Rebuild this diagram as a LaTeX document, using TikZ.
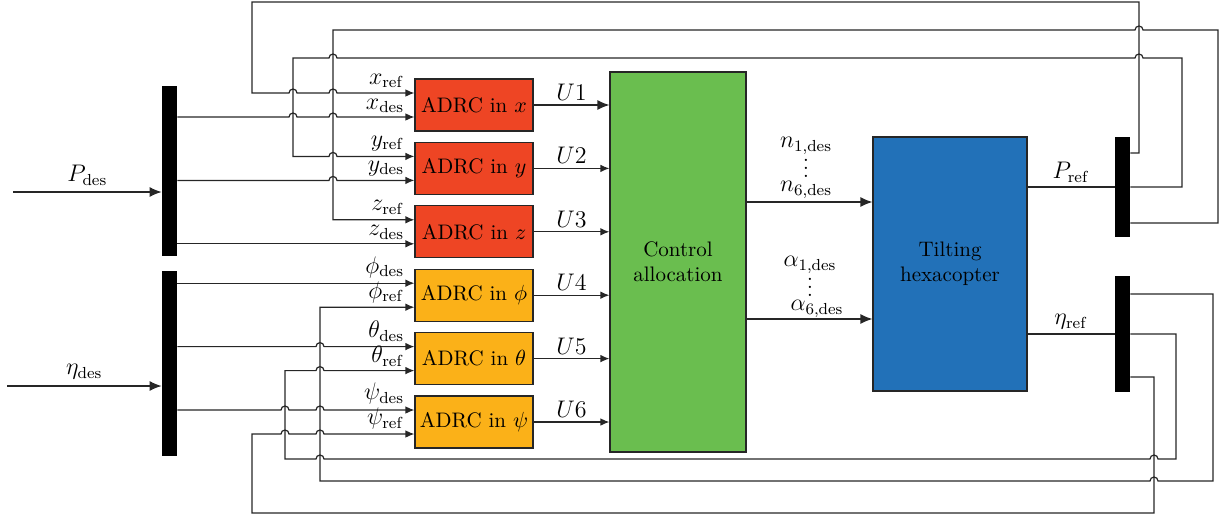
\documentclass[tikz,border=0pt]{standalone}
\usepackage{amsmath,amssymb}
\usepackage{xcolor}
\usepackage{tikz}
\usetikzlibrary{arrows.meta,positioning}

\definecolor{adrcred}{HTML}{EE4524}
\definecolor{adrcorange}{HTML}{FBB118}
\definecolor{allocgreen}{HTML}{6ABE4F}
\definecolor{hexablue}{HTML}{2271B8}

% line hops over a vertical wire (rightwards / leftwards)
\newcommand{\hopr}[2]{-- ([xshift=-2pt]#1 |- #2) arc[start angle=180,end angle=0,radius=2pt]}
\newcommand{\hopl}[2]{-- ([xshift=2pt]#1 |- #2) arc[start angle=0,end angle=180,radius=2pt]}

\begin{document}
\begin{tikzpicture}[
    x=0.5pt, y=-0.5pt,
    node distance=5.1pt,
    font=\fontsize{10.5}{12.5}\selectfont,
    wire/.style={line width=0.6pt, draw=black!85},
    arr/.style={wire, -{Latex[length=4.5pt,width=3.8pt]}},
    bigarr/.style={wire, -{Latex[length=6pt,width=5pt]}},
    adrc/.style={rectangle, draw=black!85, line width=0.6pt, minimum width=59pt, minimum height=26pt, inner sep=1pt},
    bar/.style={rectangle, fill=black, inner sep=0pt, minimum width=7.5pt},
    bigblock/.style={rectangle, draw=black!85, line width=0.6pt, align=center},
    sig/.style={inner sep=1pt, font=\fontsize{11.5}{13}\selectfont}
]
\useasboundingbox (0,0) rectangle (1221,520);

% bars
\node[bar, minimum height=85pt] (pbar) at (169.5,171) {};
\node[bar, minimum height=92.5pt] (ebar) at (169.5,363.5) {};
\node[bar, minimum height=50pt] (rbar1) at (1122.5,187) {};
\node[bar, minimum height=58pt] (rbar2) at (1122.5,334) {};

% controllers
\node[adrc, fill=adrcred] (xb) at (474,105) {ADRC in $x$};
\node[adrc, fill=adrcred, below=of xb] (yb) {ADRC in $y$};
\node[adrc, fill=adrcred, below=of yb] (zb) {ADRC in $z$};
\node[adrc, fill=adrcorange, below=of zb] (phib) {ADRC in $\phi$};
\node[adrc, fill=adrcorange, below=of phib] (thb) {ADRC in $\theta$};
\node[adrc, fill=adrcorange, below=of thb] (psib) {ADRC in $\psi$};

\node[bigblock, fill=allocgreen, minimum width=68pt, minimum height=190pt] (alloc) at (678,262) {Control\\allocation};
\node[bigblock, fill=hexablue, minimum width=77pt, minimum height=127pt] (hexa) at (950,264) {Tilting\\hexacopter};

% ports
\foreach \b/\r/\d in {xb/xref/xdes, yb/yref/ydes, zb/zref/zdes}{
  \coordinate (\r) at ([yshift=6pt]\b.west);
  \coordinate (\d) at ([yshift=-6pt]\b.west);
}
\foreach \b/\d/\r in {phib/phides/phiref, thb/thdes/thref, psib/psides/psiref}{
  \coordinate (\d) at ([yshift=6pt]\b.west);
  \coordinate (\r) at ([yshift=-6pt]\b.west);
}
\coordinate (pin) at (13,192);
\coordinate (ein) at (7,386);
\coordinate (nin) at ([yshift=31pt]hexa.west);
\coordinate (ain) at ([yshift=-27.5pt]hexa.west);
\coordinate (p1) at ([yshift=17pt]rbar1.east);
\coordinate (p3) at ([yshift=-18pt]rbar1.east);
\coordinate (q1) at ([yshift=20pt]rbar2.east);
\coordinate (q3) at ([yshift=-21.5pt]rbar2.east);

% wire columns and rows
\coordinate (vA) at (252,0);
\coordinate (vB) at (293,0);
\coordinate (vC) at (333,0);
\coordinate (vD) at (285,0);
\coordinate (vE) at (320,0);
\coordinate (vF) at (1139,0);
\coordinate (vG) at (1182,0);
\coordinate (vH) at (1218,0);
\coordinate (vI) at (1154,0);
\coordinate (vJ) at (1176,0);
\coordinate (vK) at (1213,0);
\coordinate (t1) at (0,2);
\coordinate (t2) at (0,30);
\coordinate (t3) at (0,58);
\coordinate (b1) at (0,459);
\coordinate (b2) at (0,481);
\coordinate (b3) at (0,513);

% inputs
\draw[bigarr] (pin) -- node[above, sig, inner sep=3pt] {$P_{\mathrm{des}}$} (pbar.west |- pin);
\draw[bigarr] (ein) -- node[above, sig, inner sep=3pt] {$\eta_{\mathrm{des}}$} (ebar.west |- ein);

\draw[arr] (pbar.east |- xdes) \hopr{vB}{xdes} \hopr{vC}{xdes} -- (xdes);
\draw[arr] (pbar.east |- ydes) \hopr{vC}{ydes} -- (ydes);
\draw[arr] (pbar.east |- zdes) -- (zdes);
\draw[arr] (ebar.east |- phides) -- (phides);
\draw[arr] (ebar.east |- thdes) \hopr{vE}{thdes} -- (thdes);
\draw[arr] (ebar.east |- psides) \hopr{vD}{psides} \hopr{vE}{psides} -- (psides);

% feedback of P_ref
\draw[arr] (p1) -| (vF |- t1) -| (vA |- xref) \hopr{vB}{xref} \hopr{vC}{xref} -- (xref);
\draw[arr] (rbar1.east) -| (vG |- t3) \hopl{vF}{t3} \hopl{vC}{t3} -- (vB |- t3) -- (vB |- yref) \hopr{vC}{yref} -- (yref);
\draw[arr] (p3) -| (vH |- t2) \hopl{vF}{t2} -- (vC |- t2) |- (zref);

% feedback of eta_ref
\draw[arr] (q1) -| (vK |- b2) \hopl{vI}{b2} -- (vE |- b2) |- (phiref);
\draw[arr] (rbar2.east) -| (vJ |- b1) \hopl{vI}{b1} \hopl{vE}{b1} -- (vD |- b1) -- (vD |- thref) \hopr{vE}{thref} -- (thref);
\draw[arr] (q3) -| (vI |- b3) -- (vA |- b3) -- (vA |- psiref) \hopr{vD}{psiref} \hopr{vE}{psiref} -- (psiref);

% signal names
\node[sig, above left=1.5pt and 4pt of xref] {$x_{\mathrm{ref}}$};
\node[sig, above left=1pt and 4pt of xdes] {$x_{\mathrm{des}}$};
\node[sig, above left=1.5pt and 4pt of yref] {$y_{\mathrm{ref}}$};
\node[sig, above left=1pt and 4pt of ydes] {$y_{\mathrm{des}}$};
\node[sig, above left=1.5pt and 4pt of zref] {$z_{\mathrm{ref}}$};
\node[sig, above left=1pt and 4pt of zdes] {$z_{\mathrm{des}}$};
\node[sig, above left=1.5pt and 4pt of phides] {$\phi_{\mathrm{des}}$};
\node[sig, above left=1pt and 4pt of phiref] {$\phi_{\mathrm{ref}}$};
\node[sig, above left=1.5pt and 4pt of thdes] {$\theta_{\mathrm{des}}$};
\node[sig, above left=1pt and 4pt of thref] {$\theta_{\mathrm{ref}}$};
\node[sig, above left=1.5pt and 4pt of psides] {$\psi_{\mathrm{des}}$};
\node[sig, above left=1pt and 4pt of psiref] {$\psi_{\mathrm{ref}}$};

% controller outputs
\draw[bigarr] (xb.east) -- node[above, sig, inner sep=2pt] {$U1$} (xb.east -| alloc.west);
\draw[arr] (yb.east) -- node[above, sig, inner sep=2pt] {$U2$} (yb.east -| alloc.west);
\draw[arr] (zb.east) -- node[above, sig, inner sep=2pt] {$U3$} (zb.east -| alloc.west);
\draw[arr] (phib.east) -- node[above, sig, inner sep=2pt] {$U4$} (phib.east -| alloc.west);
\draw[arr] (thb.east) -- node[above, sig, inner sep=2pt] {$U5$} (thb.east -| alloc.west);
\draw[arr] (psib.east) -- node[above, sig, inner sep=2pt] {$U6$} (psib.east -| alloc.west);

% allocation outputs
\draw[bigarr] (alloc.east |- nin) -- (nin);
\draw[bigarr] (alloc.east |- ain) -- (ain);
\node[sig, align=center] (nlab) at (806,168) {$n_{1,\mathrm{des}}$\\[2pt]\smash{$\vdots$}\\[-6pt]$n_{6,\mathrm{des}}$};
\node[sig, align=center] (alab) at (810,287) {$\alpha_{1,\mathrm{des}}$\\[2pt]\smash{$\vdots$}\\[-6pt]\hspace*{7pt}$\alpha_{6,\mathrm{des}}$};

% plant outputs
\draw[wire] (hexa.east |- rbar1) -- node[above, sig, inner sep=2pt] {$P_{\mathrm{ref}}$} (rbar1.west);
\draw[wire] (hexa.east |- rbar2) -- node[above, sig, inner sep=2pt] {$\eta_{\mathrm{ref}}$} (rbar2.west);

\end{tikzpicture}
\end{document}
